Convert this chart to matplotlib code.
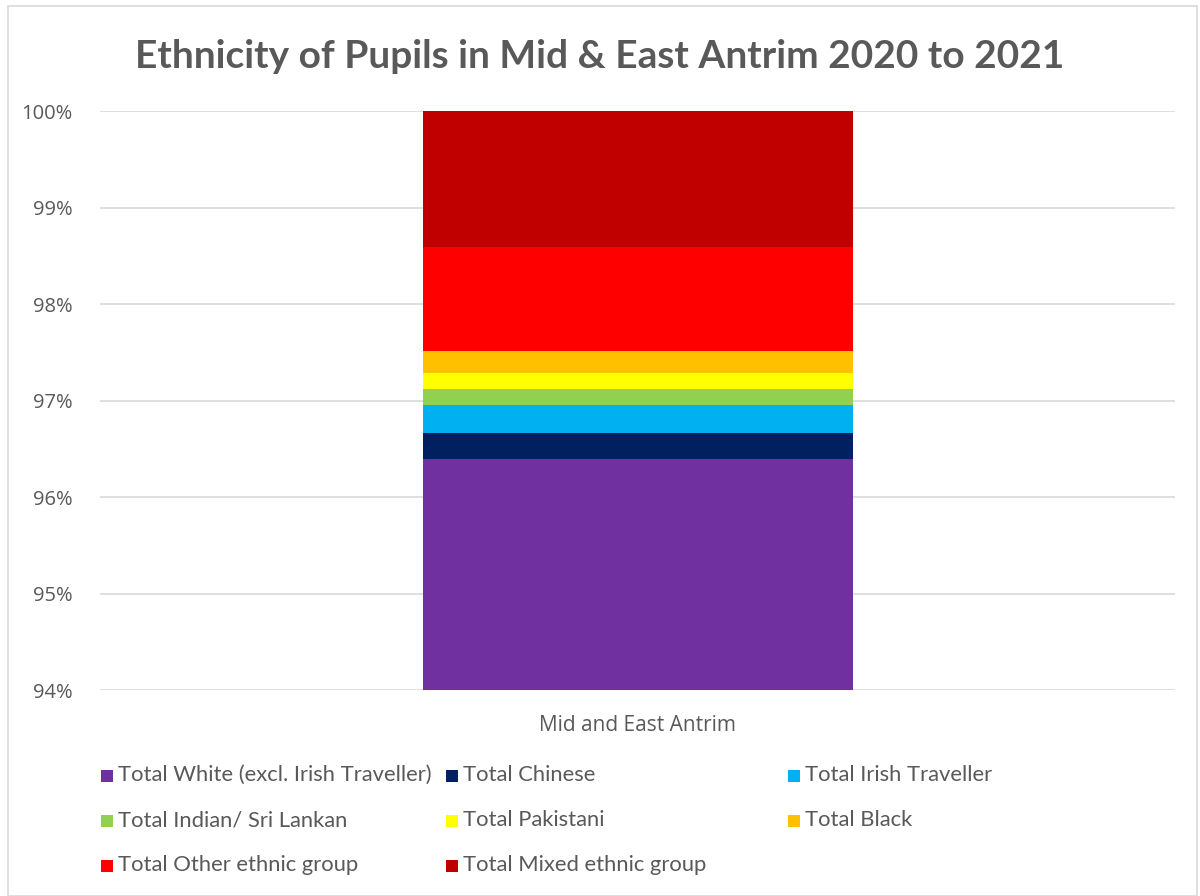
import matplotlib
matplotlib.use("Agg")
import matplotlib.pyplot as plt
from matplotlib.patches import Rectangle
import numpy as np

# --- Data ---
category = ['Mid and East Antrim']
groups = ['Total White (excl. Irish Traveller)', 'Total Chinese', 'Total Irish Traveller',
          'Total Indian/ Sri Lankan', 'Total Pakistani', 'Total Black',
          'Total Other ethnic group', 'Total Mixed ethnic group']
shares = [96.39, 0.27, 0.29, 0.17, 0.17, 0.22, 1.08, 1.41]  # percent of pupils
colors = ['#7030a0', '#002060', '#00b0f0', '#92d050', '#ffff00', '#ffc000', '#ff0000', '#c00000']
yticks = [94, 95, 96, 97, 98, 99, 100]

TEXT = '#595959'
plt.rcParams['font.family'] = ['Lato', 'DejaVu Sans']

fig = plt.figure(figsize=(12, 8.96), dpi=100)
W, H = 1200, 896

# outer chart frame
fig.add_artist(Rectangle((8 / W, 0.0), 1189 / W, 1 - 6 / H, transform=fig.transFigure,
                         fill=False, edgecolor='#d9d9d9', linewidth=1.2))

ax = fig.add_axes([100 / W, 1 - 690 / H, 1075 / W, 579 / H])

bottom = 0.0
for name, val, col in zip(groups, shares, colors):
    ax.bar(category, [val], bottom=[bottom], width=0.4, color=col, zorder=3, label=name)
    bottom += val

ax.set_xlim(-0.5, 0.5)
ax.set_ylim(94, 100)
ax.set_yticks(yticks)
ax.set_yticklabels([f'{t}%' for t in yticks], fontsize=14.5, color=TEXT,
                   family=['Open Sans', 'DejaVu Sans'])
ax.tick_params(axis='y', length=0, pad=20)
ax.tick_params(axis='x', length=0, pad=18, labelsize=15, labelcolor=TEXT)
for lab in ax.get_xticklabels():
    lab.set_family(['Open Sans', 'DejaVu Sans'])
ax.grid(axis='y', color='#d9d9d9', linewidth=1.2, zorder=0)
for s in ax.spines.values():
    s.set_visible(False)

fig.text(0.5, 1 - 57 / H, 'Ethnicity of Pupils in Mid & East Antrim 2020 to 2021',
         ha='center', va='center', fontsize=28, fontweight='bold', color=TEXT)

# legend laid out like the Excel one: 3 columns, row-wise order
col_x = [101, 446, 788]
row_y = [776, 821, 866]
for i, (name, col) in enumerate(zip(groups, colors)):
    x = col_x[i % 3]
    y = row_y[i // 3]
    fig.add_artist(Rectangle((x / W, 1 - (y + 6) / H), 12 / W, 12 / H,
                             transform=fig.transFigure, facecolor=col, edgecolor='none'))
    fig.text((x + 17) / W, 1 - (y - 1) / H, name, ha='left', va='center',
             fontsize=15.8, color=TEXT)

fig.savefig('out.png', dpi=100)
